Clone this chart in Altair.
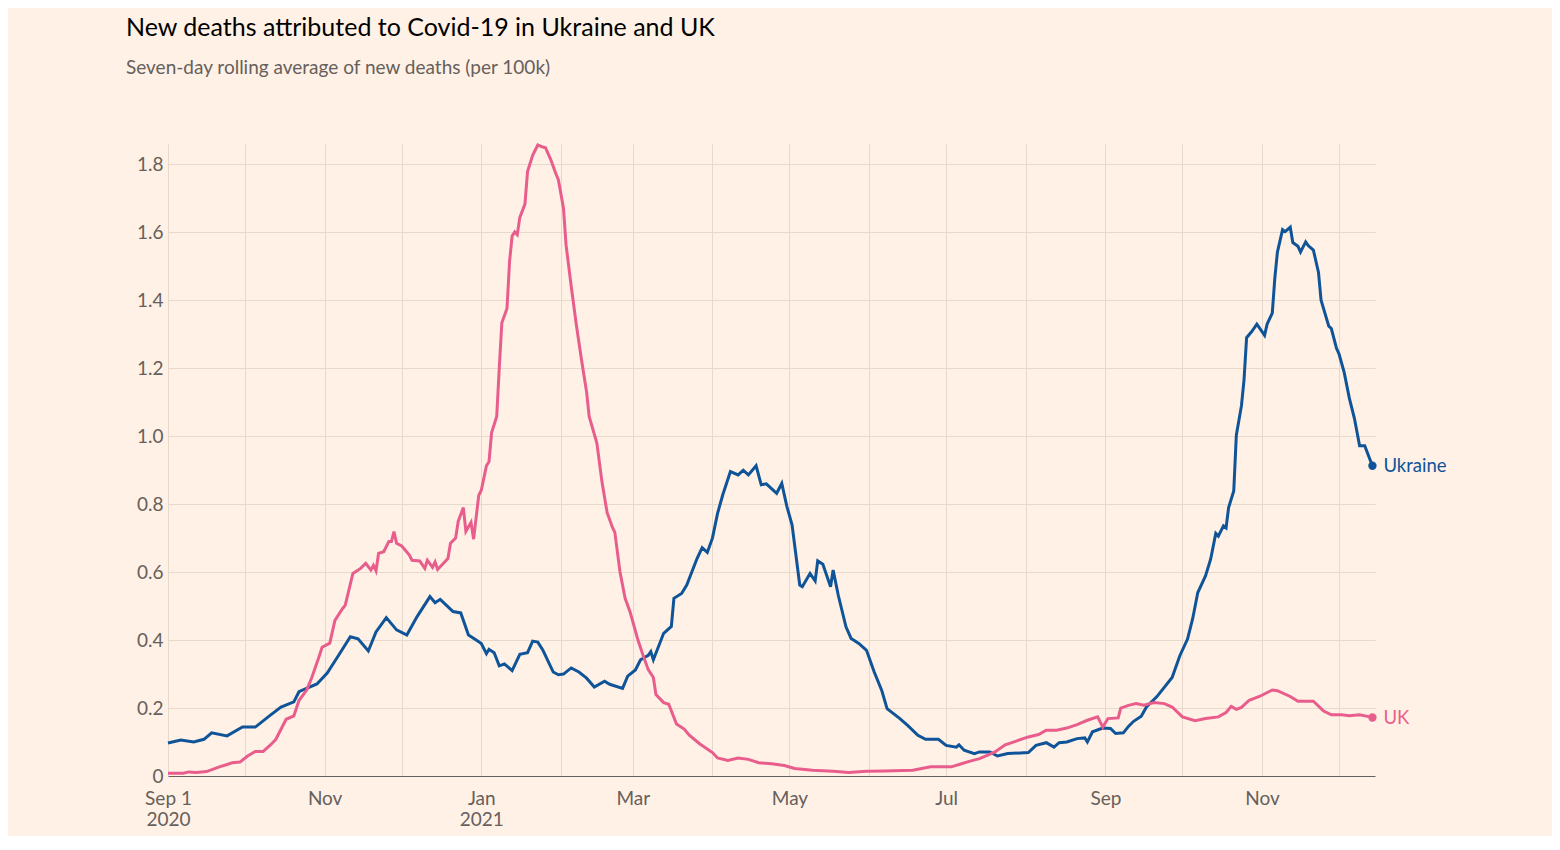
import altair as alt
import pandas as pd

# ---- data ----
start_date = "2020-09-01"

ukraine_day = [0, 5, 10, 14, 17, 23, 29, 34, 40, 44, 49, 51, 58, 62, 67, 71, 74, 78, 81, 85,
               89, 93, 97, 102, 104, 106, 111, 114, 117, 120, 122, 124, 125, 127, 129, 131, 134,
               137, 140, 142, 144, 146, 150, 152, 154, 157, 160, 163, 166, 170, 172, 177, 179,
               182, 184, 187, 188, 189, 193, 196, 197, 200, 202, 206, 208, 210, 212, 214, 216,
               219, 222, 224, 226, 229, 231, 233, 237, 239, 241, 243, 246, 247, 250, 252, 253,
               255, 258, 259, 261, 264, 266, 269, 272, 275, 278, 280, 285, 288, 292, 295, 300,
               303, 307, 308, 310, 314, 316, 320, 323, 327, 335, 338, 342, 345, 347, 350, 354,
               357, 358, 360, 364, 367, 369, 372, 374, 376, 379, 381, 385, 391, 394, 397, 399,
               401, 404, 406, 408, 409, 411, 412, 413, 415, 416, 418, 419, 420, 422, 424, 427,
               428, 430, 431, 432, 434, 435, 437, 438, 440, 441, 443, 444, 446, 448, 449, 452,
               453, 455, 456, 458, 460, 462, 464, 466, 468, 469]
ukraine_value = [0.097, 0.106, 0.100, 0.108, 0.127, 0.118, 0.144, 0.144, 0.180, 0.203, 0.218,
                 0.248, 0.271, 0.303, 0.362, 0.410, 0.404, 0.368, 0.424, 0.466, 0.430, 0.415,
                 0.469, 0.528, 0.510, 0.520, 0.484, 0.480, 0.415, 0.400, 0.390, 0.360, 0.373,
                 0.363, 0.324, 0.330, 0.310, 0.358, 0.363, 0.397, 0.394, 0.370, 0.306, 0.298,
                 0.300, 0.318, 0.306, 0.288, 0.262, 0.279, 0.270, 0.258, 0.294, 0.312, 0.342,
                 0.355, 0.366, 0.342, 0.420, 0.440, 0.523, 0.537, 0.562, 0.640, 0.672, 0.658,
                 0.700, 0.773, 0.827, 0.896, 0.886, 0.900, 0.886, 0.913, 0.857, 0.860, 0.832,
                 0.861, 0.793, 0.739, 0.562, 0.557, 0.596, 0.574, 0.633, 0.623, 0.557, 0.606,
                 0.532, 0.439, 0.405, 0.390, 0.370, 0.306, 0.250, 0.198, 0.169, 0.149, 0.120,
                 0.108, 0.108, 0.090, 0.085, 0.092, 0.076, 0.066, 0.071, 0.071, 0.059, 0.066,
                 0.069, 0.090, 0.098, 0.085, 0.098, 0.100, 0.110, 0.112, 0.100, 0.130, 0.141,
                 0.140, 0.125, 0.127, 0.146, 0.161, 0.176, 0.203, 0.233, 0.290, 0.354, 0.403,
                 0.463, 0.540, 0.589, 0.638, 0.714, 0.706, 0.736, 0.730, 0.790, 0.839, 1.003,
                 1.090, 1.166, 1.290, 1.308, 1.330, 1.297, 1.330, 1.362, 1.466, 1.542, 1.608,
                 1.602, 1.615, 1.570, 1.559, 1.542, 1.572, 1.561, 1.548, 1.482, 1.400, 1.324,
                 1.317, 1.259, 1.242, 1.188, 1.112, 1.052, 0.972, 0.972, 0.932, 0.913]

uk_day = [0, 6, 8, 11, 15, 20, 23, 25, 28, 31, 34, 37, 40, 42, 46, 49, 51, 54, 56, 59, 60, 63,
          65, 68, 69, 72, 75, 77, 79, 80, 81, 82, 84, 86, 87, 88, 89, 91, 94, 95, 98, 100, 101,
          103, 104, 105, 109, 110, 112, 113, 115, 116, 118, 119, 121, 122, 124, 125, 126, 128,
          129, 130, 132, 133, 134, 135, 136, 137, 139, 140, 142, 144, 146, 147, 149, 151, 152,
          154, 155, 157, 159, 161, 163, 164, 167, 169, 171, 173, 174, 176, 178, 180, 183, 185,
          187, 189, 190, 193, 195, 198, 201, 203, 207, 212, 214, 218, 222, 226, 230, 235, 240,
          244, 251, 259, 265, 272, 279, 290, 297, 305, 309, 312, 316, 319, 322, 326, 330, 335,
          339, 342, 346, 350, 354, 358, 362, 364, 366, 370, 371, 374, 377, 380, 384, 388, 391,
          395, 400, 404, 409, 412, 414, 416, 418, 421, 425, 430, 432, 437, 440, 446, 450, 453,
          457, 460, 464, 468, 469]
uk_value = [0.008, 0.008, 0.012, 0.010, 0.013, 0.027, 0.034, 0.039, 0.041, 0.059, 0.072, 0.072,
            0.092, 0.108, 0.167, 0.177, 0.222, 0.253, 0.290, 0.355, 0.379, 0.391, 0.458, 0.493,
            0.502, 0.596, 0.611, 0.626, 0.606, 0.620, 0.604, 0.655, 0.660, 0.690, 0.690, 0.719,
            0.685, 0.677, 0.650, 0.635, 0.633, 0.611, 0.635, 0.614, 0.630, 0.608, 0.640, 0.685,
            0.700, 0.749, 0.790, 0.720, 0.746, 0.697, 0.826, 0.841, 0.913, 0.925, 1.010, 1.058,
            1.202, 1.334, 1.376, 1.514, 1.589, 1.601, 1.593, 1.644, 1.683, 1.779, 1.827, 1.857,
            1.851, 1.849, 1.815, 1.773, 1.755, 1.671, 1.563, 1.442, 1.328, 1.226, 1.130, 1.058,
            0.980, 0.865, 0.775, 0.733, 0.717, 0.601, 0.523, 0.481, 0.400, 0.355, 0.313, 0.290,
            0.240, 0.216, 0.211, 0.153, 0.138, 0.120, 0.095, 0.069, 0.053, 0.046, 0.053, 0.049,
            0.039, 0.036, 0.031, 0.022, 0.017, 0.014, 0.010, 0.014, 0.015, 0.017, 0.027, 0.027,
            0.036, 0.043, 0.051, 0.061, 0.071, 0.092, 0.102, 0.115, 0.122, 0.135, 0.135, 0.141,
            0.151, 0.164, 0.174, 0.144, 0.169, 0.171, 0.200, 0.208, 0.213, 0.208, 0.216, 0.213,
            0.203, 0.174, 0.163, 0.169, 0.174, 0.187, 0.205, 0.196, 0.202, 0.223, 0.234, 0.253,
            0.251, 0.234, 0.220, 0.220, 0.191, 0.180, 0.180, 0.177, 0.180, 0.174, 0.172]

series_names = ["Ukraine", "UK"]
series_colors = ["#0f5499", "#e95d8c"]

# ---- build table ----
t0 = pd.Timestamp(start_date)
rows = []
for name, days, vals in [("Ukraine", ukraine_day, ukraine_value), ("UK", uk_day, uk_value)]:
    for d, v in zip(days, vals):
        rows.append({"date": t0 + pd.Timedelta(days=d), "value": v, "country": name})
df = pd.DataFrame(rows)
last = df.sort_values("date").groupby("country", as_index=False).last()

FONT = "Lato"
GREY = "#66605c"
GRID = "#e7dacd"

tick_dates = [alt.DateTime(year=2020 + (8 + i) // 12, month=(8 + i) % 12 + 1, date=1) for i in range(16)]

x_enc = alt.X(
    "date:T",
    scale=alt.Scale(domain=[alt.DateTime(year=2020, month=9, date=1),
                            alt.DateTime(year=2021, month=12, date=15)], nice=False),
    axis=alt.Axis(
        title=None,
        values=tick_dates,
        labelExpr=(
            "month(datum.value) % 2 == 1 ? '' : "
            "(year(datum.value) == 2020 && month(datum.value) == 8 ? ['Sep 1', '2020'] : "
            "(month(datum.value) == 0 ? [timeFormat(datum.value, '%b'), timeFormat(datum.value, '%Y')] : "
            "timeFormat(datum.value, '%b')))"
        ),
        labelOverlap=False,
        labelFlush=False,
        ticks=False,
        grid=True,
        gridColor=GRID,
        gridWidth=1,
        domain=True,
        domainColor=GREY,
        domainWidth=1,
        labelFont=FONT,
        labelFontSize=19,
        labelColor=GREY,
        labelPadding=13,
        labelLineHeight=21,
    ),
)
y_enc = alt.Y(
    "value:Q",
    scale=alt.Scale(domain=[0, 1.86], nice=False),
    axis=alt.Axis(
        title=None,
        values=[0, 0.2, 0.4, 0.6, 0.8, 1.0, 1.2, 1.4, 1.6, 1.8],
        labelExpr="datum.value == 0 ? '0' : format(datum.value, '.1f')",
        ticks=False,
        domain=False,
        grid=True,
        gridColor=GRID,
        gridWidth=1,
        labelFont=FONT,
        labelFontSize=19,
        labelColor=GREY,
        labelPadding=5,
    ),
)
color_scale = alt.Scale(domain=series_names, range=series_colors)

lines = alt.Chart(df).mark_line(strokeWidth=3, interpolate="linear").encode(
    x=x_enc,
    y=y_enc,
    color=alt.Color("country:N", scale=color_scale, legend=None),
    order=alt.Order("country:N", sort="descending"),
    detail="country:N",
)

dots = alt.Chart(last).mark_point(filled=True, size=70, opacity=1).encode(
    x="date:T",
    y="value:Q",
    color=alt.Color("country:N", scale=color_scale, legend=None),
)

labels = alt.Chart(last).mark_text(
    align="left", baseline="middle", dx=11, font=FONT, fontSize=18.5
).encode(
    x="date:T",
    y="value:Q",
    text="country:N",
    color=alt.Color("country:N", scale=color_scale, legend=None),
)

chart = (
    alt.layer(lines, dots, labels)
    .properties(
        width=1207,
        height=632,
        autosize=alt.AutoSizeParams(type="none"),
        padding={"left": 160, "top": 136, "right": 177, "bottom": 60},
        title=alt.TitleParams(
            text="New deaths attributed to Covid-19 in Ukraine and UK",
            subtitle="Seven-day rolling average of new deaths (per 100k)",
            anchor="start",
            frame="group",
            dx=-42,
            offset=61,
            font=FONT,
            fontSize=25,
            fontWeight="normal",
            color="#000000",
            subtitleFont=FONT,
            subtitleFontSize=19,
            subtitleColor=GREY,
            subtitlePadding=18,
        ),
        background="#fff1e5",
    )
    .configure_view(stroke=None)
)

chart.save("out.html", embed_options={"renderer": "svg", "actions": False})
